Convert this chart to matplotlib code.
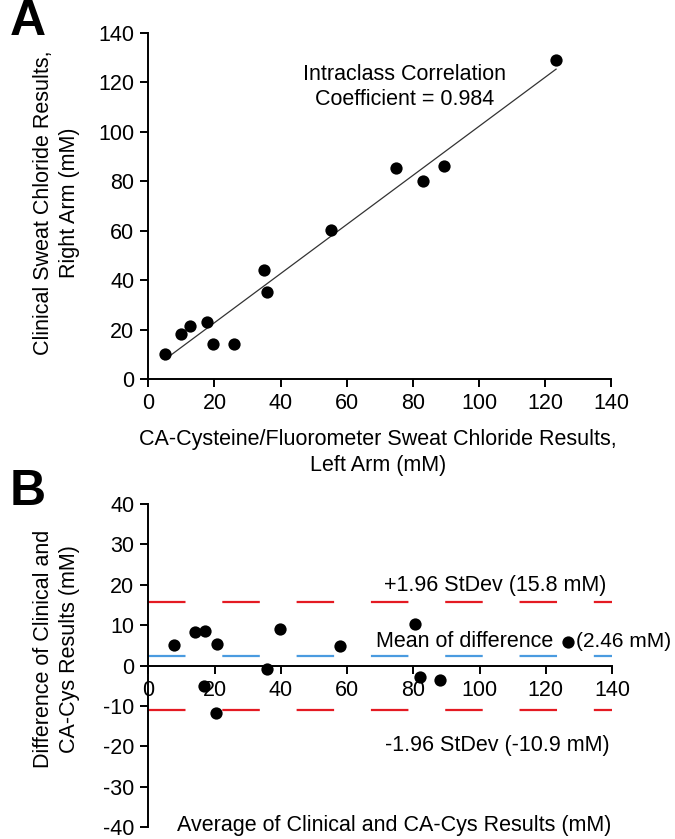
import numpy as np
import matplotlib
matplotlib.use("Agg")
import matplotlib.pyplot as plt

plt.rcParams['font.family'] = ['Liberation Sans', 'DejaVu Sans']
plt.rcParams['axes.unicode_minus'] = False
plt.rcParams['lines.scale_dashes'] = False

# Panel A data
ca_cys_left = [5.0, 9.8, 12.6, 17.8, 19.5, 25.9, 35.1, 35.9, 55.2, 75.0, 83.1, 89.5, 123.3]
clinical_right = [10.2, 18.3, 21.4, 23.2, 14.1, 14.1, 44.2, 35.0, 60.1, 85.2, 80.0, 86.1, 129.1]
icc_text = "Intraclass Correlation\nCoefficient = 0.984"

# Panel B data (Bland-Altman)
avg_vals = [7.9, 14.2, 17.2, 20.8, 16.7, 20.4, 35.8, 39.9, 58.0, 80.4, 82.0, 88.0, 126.8]
diff_vals = [5.0, 8.3, 8.5, 5.3, -5.1, -11.6, -0.9, 9.0, 4.8, 10.4, -2.8, -3.6, 5.8]
mean_diff = 2.46
upper_loa = 15.8
lower_loa = -10.9

W, H = 675, 839
fig = plt.figure(figsize=(W / 100, H / 100), dpi=100)

FS = 15.5
TFS = 15.5

def px2fig(x0, y0, x1, y1):
    return [x0 / W, 1 - y1 / H, (x1 - x0) / W, (y1 - y0) / H]

def ftext(x, y, s, **kw):
    return fig.text(x / W, 1 - y / H, s, **kw)

# ---------- Panel A ----------
axA = fig.add_axes(px2fig(148.3, 32.7, 611.3, 379))
axA.scatter(ca_cys_left, clinical_right, s=78, color='black', zorder=3, linewidths=0)
coef = np.polyfit(ca_cys_left, clinical_right, 1)
xf = np.array([min(ca_cys_left), max(ca_cys_left)])
axA.plot(xf, np.polyval(coef, xf), color='#333333', lw=0.9, zorder=2)
axA.set_xlim(0, 140)
axA.set_ylim(0, 140)
axA.set_xticks(range(0, 141, 20))
axA.set_yticks(range(0, 141, 20))
for s in ['top', 'right']:
    axA.spines[s].set_visible(False)
for s in ['left', 'bottom']:
    axA.spines[s].set_linewidth(1.4)
axA.tick_params(direction='out', length=6, width=1.4, labelsize=TFS, pad=4)
ftext(378, 452.5, "CA-Cysteine/Fluorometer Sweat Chloride Results,\nLeft Arm (mM)",
      fontsize=FS, ha='center', va='center', linespacing=1.35)
ftext(56.5, 203, "Clinical Sweat Chloride Results,\nRight Arm (mM)", fontsize=FS,
      rotation=90, ha='center', va='center', linespacing=1.28)
axA.text(77.6, 118, icc_text, ha='center', va='center', fontsize=FS, linespacing=1.28)
ftext(28, 22, "A", fontsize=36, fontweight='bold', ha='center', va='center')

# ---------- Panel B ----------
axB = fig.add_axes(px2fig(148.3, 504, 612, 827.3))
axB.scatter(avg_vals, diff_vals, s=78, color='black', zorder=3, linewidths=0)
red = '#E41A22'
blue = '#4A9BE0'
dash = (0, (27, 26.5))
axB.plot([0, 140], [upper_loa, upper_loa], color=red, lw=1.6, linestyle=dash, zorder=2)
axB.plot([0, 140], [lower_loa, lower_loa], color=red, lw=1.6, linestyle=dash, zorder=2)
axB.plot([0, 140], [mean_diff, mean_diff], color=blue, lw=1.6, linestyle=dash, zorder=2)
axB.set_xlim(0, 140)
axB.set_ylim(-40, 40)
axB.set_xticks(range(0, 141, 20))
axB.set_yticks(range(-40, 41, 10))
for s in ['top', 'right']:
    axB.spines[s].set_visible(False)
axB.spines['bottom'].set_position(('data', 0))
for s in ['left', 'bottom']:
    axB.spines[s].set_linewidth(1.4)
axB.tick_params(direction='out', length=6, width=1.4, labelsize=TFS, pad=4)
ftext(56.5, 649, "Difference of Clinical and\nCA-Cys Results (mM)", fontsize=FS,
      rotation=90, ha='center', va='center', linespacing=1.28)
axB.text(104.8, 19.8, "+1.96 StDev (15.8 mM)", ha='center', va='center', fontsize=FS)
axB.text(68.6, 5.9, "Mean of difference", ha='left', va='center', fontsize=FS)
axB.text(129.2, 5.9, "(2.46 mM)", ha='left', va='center', fontsize=15, clip_on=False)
axB.text(105.5, -19.8, "-1.96 StDev (-10.9 mM)", ha='center', va='center', fontsize=FS)
ftext(394, 825, "Average of Clinical and CA-Cys Results (mM)",
      ha='center', va='center', fontsize=FS)
ftext(28, 492, "B", fontsize=36, fontweight='bold', ha='center', va='center')

fig.savefig("out.png", dpi=100)
